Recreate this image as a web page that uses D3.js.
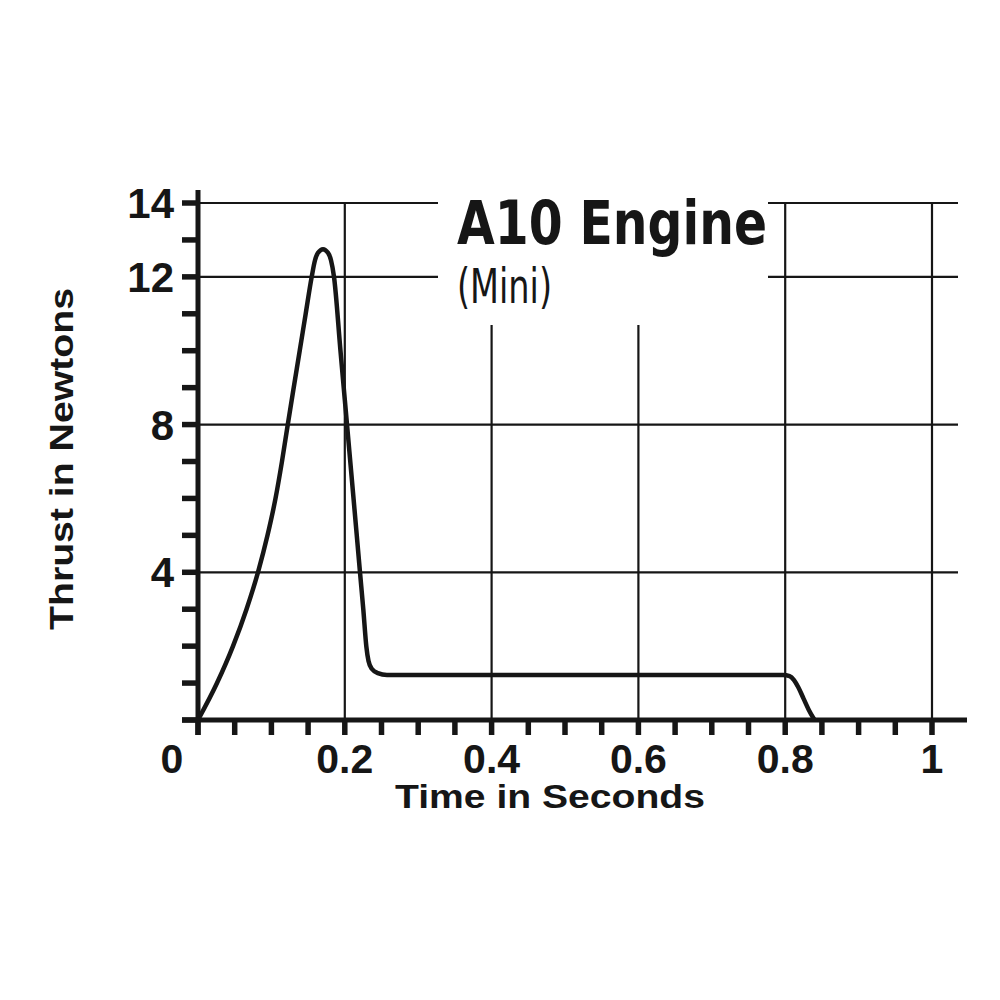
<!DOCTYPE html>
<html>
<head>
<meta charset="utf-8">
<script src="https://cdn.jsdelivr.net/npm/d3@7"></script>
<style>
  html, body { margin: 0; padding: 0; background: #fff; }
  svg { display: block; }
</style>
</head>
<body>
<svg id="chart" width="1000" height="1000"></svg>
<script>
// ---- data ----
const timeValues   = [0, 0.0259, 0.0477, 0.0661, 0.0817, 0.0947, 0.1056, 0.1144, 0.1223, 0.1304, 0.1386, 0.1467, 0.1549, 0.1594, 0.1635, 0.1703, 0.1771, 0.1812, 0.1853, 0.1941, 0.2030, 0.2119, 0.2207, 0.2252, 0.2293, 0.2323, 0.237, 0.245, 0.2575, 0.40, 0.60, 0.797, 0.806, 0.812, 0.818, 0.825, 0.832, 0.840];
const thrustValues = [0, 1,      2,      3,      4,      5,      6,      7,      8,      9,      10,     11,     12,     12.45,  12.65,  12.75,  12.65,  12.45,  12.0,   10,     8,      6,      4,      3,      2,      1.6,    1.38,  1.27,  1.22,   1.22, 1.22, 1.22,  1.19,  1.08,  0.88,  0.58,  0.28,  0];
const xTickLabels = ["0", "0.2", "0.4", "0.6", "0.8", "1"];
const xTickValues = [0, 0.2, 0.4, 0.6, 0.8, 1];
const yTickLabels = ["4", "8", "12", "14"];
const yTickValues = [4, 8, 12, 14];
const xMinorTicks = d3.range(0, 1.0001, 0.05);
const yMinorTicks = d3.range(0, 14.0001, 1);
const titleText = "A10 Engine";
const subtitleText = "(Mini)";
const xAxisTitle = "Time in Seconds";
const yAxisTitle = "Thrust in Newtons";

// ---- layout ----
const svg = d3.select("#chart");
const x = d3.scaleLinear().domain([0, 1]).range([198, 932]);
const y = d3.scaleLinear().domain([0, 14]).range([720, 203]);
const ink = "#161616";
const gridRight = 958;
const axisRight = 967;

// grid lines
const grid = svg.append("g");
grid.selectAll("line.h").data(yTickValues).join("line")
  .attr("x1", x(0)).attr("x2", gridRight)
  .attr("y1", d => y(d)).attr("y2", d => y(d))
  .attr("stroke", ink).attr("stroke-width", 2.2);
grid.selectAll("line.v").data(xTickValues.filter(d => d > 0)).join("line")
  .attr("x1", d => x(d)).attr("x2", d => x(d))
  .attr("y1", y(14)).attr("y2", y(0))
  .attr("stroke", ink).attr("stroke-width", 2.2);

// white panel behind the title
svg.append("rect").attr("x", 438).attr("y", 185).attr("width", 330).attr("height", 140).attr("fill", "#fff");

// title
svg.append("text").text(titleText)
  .attr("x", 457).attr("y", 244)
  .attr("font-family", "'DejaVu Sans Condensed', 'DejaVu Sans', sans-serif")
  .attr("font-weight", "bold").attr("font-size", 60)
  .attr("textLength", 310).attr("lengthAdjust", "spacingAndGlyphs")
  .attr("fill", ink);
svg.append("text").text(subtitleText)
  .attr("x", 457).attr("y", 303)
  .attr("font-family", "'DejaVu Sans Condensed', 'DejaVu Sans', sans-serif")
  .attr("font-size", 48)
  .attr("textLength", 95).attr("lengthAdjust", "spacingAndGlyphs")
  .attr("fill", ink);

// thrust curve
const pts = timeValues.map((t, i) => [t, thrustValues[i]]);
svg.append("path")
  .attr("d", d3.line().x(d => x(d[0])).y(d => y(d[1])).curve(d3.curveMonotoneX)(pts))
  .attr("fill", "none").attr("stroke", ink).attr("stroke-width", 4.5)
  .attr("stroke-linejoin", "round");

// axes lines
svg.append("line").attr("x1", x(0)).attr("x2", x(0)).attr("y1", 190).attr("y2", 735)
  .attr("stroke", ink).attr("stroke-width", 5);
svg.append("line").attr("x1", 182).attr("x2", axisRight).attr("y1", y(0)).attr("y2", y(0))
  .attr("stroke", ink).attr("stroke-width", 5);

// minor ticks
svg.append("g").selectAll("line").data(xMinorTicks).join("line")
  .attr("x1", d => x(d)).attr("x2", d => x(d))
  .attr("y1", y(0)).attr("y2", 735)
  .attr("stroke", ink).attr("stroke-width", 5.5);
svg.append("g").selectAll("line").data(yMinorTicks).join("line")
  .attr("x1", 182).attr("x2", x(0))
  .attr("y1", d => y(d)).attr("y2", d => y(d))
  .attr("stroke", ink).attr("stroke-width", 5.5);

// tick labels
const labelFont = "'Liberation Sans', Arial, Helvetica, sans-serif";
svg.append("g").selectAll("text").data(xTickValues).join("text")
  .text((d, i) => xTickLabels[i])
  .attr("x", d => d === 0 ? x(d) - 26 : x(d))
  .attr("y", 773)
  .attr("text-anchor", "middle")
  .attr("font-family", labelFont).attr("font-weight", "bold").attr("font-size", 41)
  .attr("fill", ink);
svg.append("g").selectAll("text").data(yTickValues).join("text")
  .text((d, i) => yTickLabels[i])
  .attr("x", 174)
  .attr("y", d => y(d) + 15)
  .attr("text-anchor", "end")
  .attr("font-family", labelFont).attr("font-weight", "bold").attr("font-size", 42)
  .attr("fill", ink);

// axis titles
svg.append("text").text(xAxisTitle)
  .attr("x", 550).attr("y", 808)
  .attr("text-anchor", "middle")
  .attr("font-family", labelFont).attr("font-weight", "bold").attr("font-size", 33)
  .attr("textLength", 310).attr("lengthAdjust", "spacingAndGlyphs")
  .attr("fill", ink);
svg.append("text").text(yAxisTitle)
  .attr("transform", "translate(73,459) rotate(-90)")
  .attr("text-anchor", "middle")
  .attr("font-family", labelFont).attr("font-weight", "bold").attr("font-size", 33)
  .attr("textLength", 342).attr("lengthAdjust", "spacingAndGlyphs")
  .attr("fill", ink);
</script>
</body>
</html>
